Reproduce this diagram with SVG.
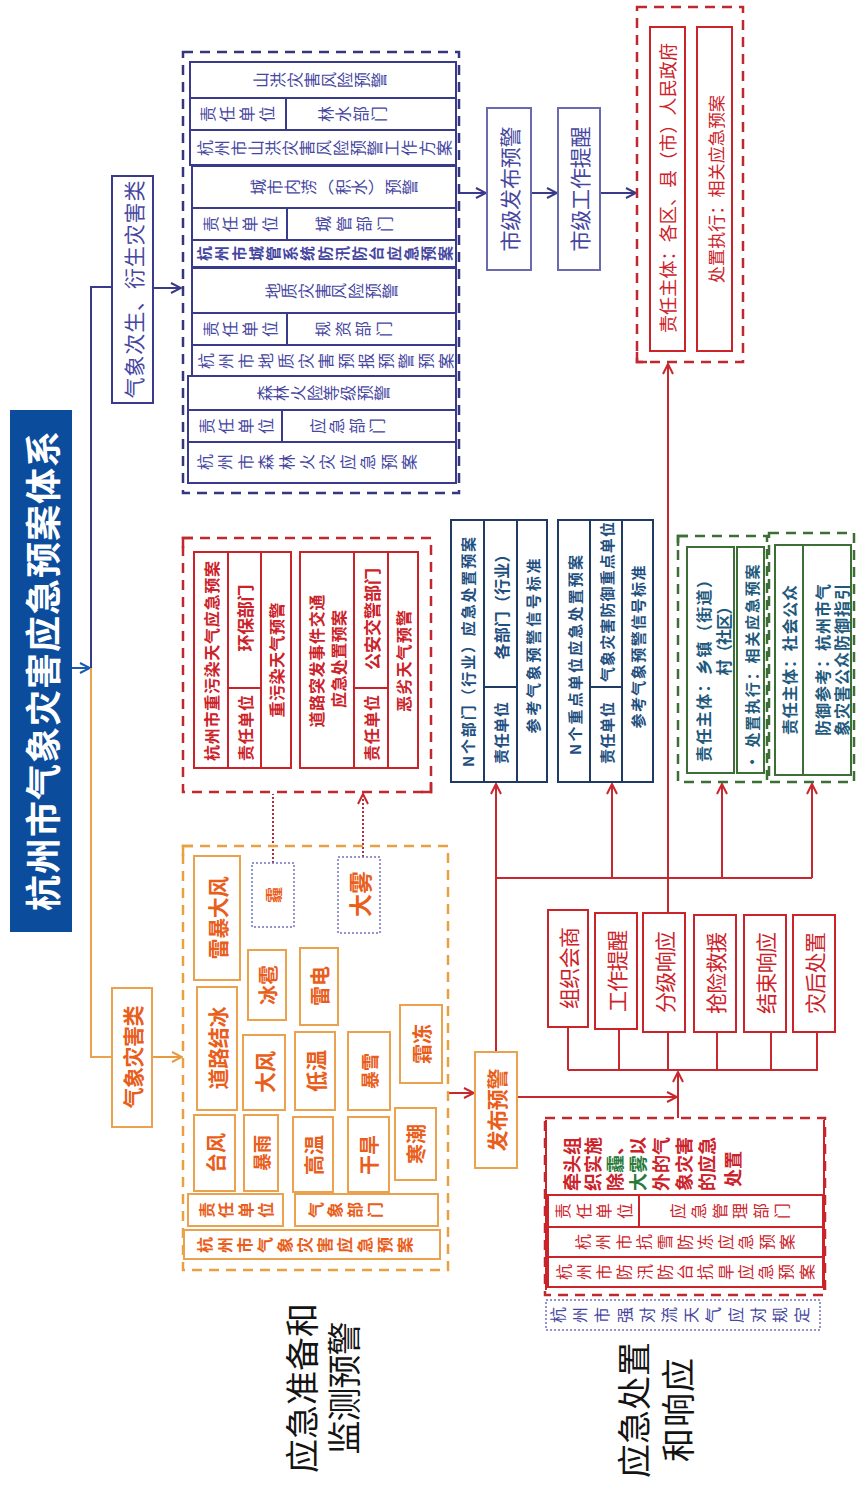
<svg xmlns="http://www.w3.org/2000/svg" width="856" height="1485" viewBox="0 0 856 1485">
<defs>
<style>
text{font-family:"Noto Sans CJK SC","Noto Sans CJK JP",sans-serif;text-anchor:middle;dominant-baseline:central}
text.st{text-anchor:start}
.v{writing-mode:vertical-rl}
.pt{fill:#4646a0}
.ot{fill:#e95e1b;font-weight:bold}
.rt{fill:#cc2229}
.rb{fill:#cc2229;font-weight:bold}
.bt{fill:#1f4f80;font-weight:bold}
.gt{fill:#1f5a7c;font-weight:bold}
.lab{fill:#141414}
.pbox{fill:#fff;stroke:#3a3a8c;stroke-width:2}
.pbox2{fill:#fff;stroke:#6a6ab0;stroke-width:2}
.obox{fill:#fff;stroke:#eba24e;stroke-width:2}
.rbox{fill:#fff;stroke:#cc2229;stroke-width:2}
.bbox{fill:#fff;stroke:#1f3b63;stroke-width:2}
.gbox{fill:#fff;stroke:#3d6e36;stroke-width:2}
.dash{fill:none;stroke-width:2.5;stroke-dasharray:10 7}
.dot{fill:#fff;stroke:#7070c0;stroke-width:1.5;stroke-dasharray:2 2}
</style>
<marker id="ap" viewBox="0 0 12 12" refX="11" refY="6" markerWidth="12" markerHeight="12" markerUnits="userSpaceOnUse" orient="auto"><path d="M1,1 L11,6 L1,11" fill="none" stroke="#3a3a8c" stroke-width="2"/></marker>
<marker id="ab" viewBox="0 0 12 12" refX="11" refY="6" markerWidth="12" markerHeight="12" markerUnits="userSpaceOnUse" orient="auto"><path d="M1,1 L11,6 L1,11" fill="none" stroke="#1a5ab0" stroke-width="2"/></marker>
<marker id="ao" viewBox="0 0 12 12" refX="11" refY="6" markerWidth="12" markerHeight="12" markerUnits="userSpaceOnUse" orient="auto"><path d="M1,1 L11,6 L1,11" fill="none" stroke="#e89a40" stroke-width="2"/></marker>
<marker id="ar" viewBox="0 0 12 12" refX="11" refY="6" markerWidth="12" markerHeight="12" markerUnits="userSpaceOnUse" orient="auto"><path d="M1,1 L11,6 L1,11" fill="none" stroke="#c8282d" stroke-width="2"/></marker>
</defs>
<rect width="856" height="1485" fill="#fff"/>

<g id="title"><rect x="10" y="410" width="62" height="522" fill="#0b4c9d"/><text x="41" y="671" transform="rotate(-90 41 671)" font-size="36" font-weight="bold" fill="#fff" textLength="480" lengthAdjust="spacing">杭州市气象灾害应急预案体系</text></g>

<g id="connectors" fill="none" stroke-width="2">
<path d="M72,668 H90" stroke="#1a5ab0" marker-end="url(#ab)"/>
<path d="M112,287 H91 V668" stroke="#3a3a8c"/>
<path d="M91,668 V1057 H112" stroke="#eba24e"/>
<path d="M153,288 H181" stroke="#3a3a8c" marker-end="url(#ap)"/>
<path d="M459,193 H486" stroke="#3a3a8c" marker-end="url(#ap)"/>
<path d="M531,193 H557" stroke="#3a3a8c" marker-end="url(#ap)"/>
<path d="M600,193 H636" stroke="#3a3a8c" marker-end="url(#ap)"/>
<path d="M152,1057 H182" stroke="#e89a40" marker-end="url(#ao)"/>
<path d="M448,1093 H474" stroke="#c8282d" marker-end="url(#ar)"/>
<path d="M496,1052 V784" stroke="#c8282d" marker-end="url(#ar)"/>
<path d="M496,878 H812" stroke="#c8282d"/>
<path d="M612,878 V784" stroke="#c8282d" marker-end="url(#ar)"/>
<path d="M722,878 V784" stroke="#c8282d" marker-end="url(#ar)"/>
<path d="M812,878 V784" stroke="#c8282d" marker-end="url(#ar)"/>
<path d="M668,913 V364" stroke="#c8282d" marker-end="url(#ar)"/>
<path d="M517,1097 H677" stroke="#c8282d" marker-end="url(#ar)"/>
<path d="M678,1118 V1072" stroke="#c8282d" marker-end="url(#ar)"/>
<path d="M568,1070 H818 M568,1070 V1027 M619,1070 V1029 M668,1070 V1032 M717,1070 V1032 M771,1070 V1032 M817,1070 V1032" stroke="#c8282d"/>
<path d="M273,863 V794 M363,857 V794" stroke="#b03040" stroke-dasharray="2 2" marker-end="url(#ar)"/>
</g>

<g id="cat-secondary"><rect class="pbox" x="112" y="176" width="41" height="227"/><text class="pt" x="132.5" y="289.5" transform="rotate(-90 132.5 289.5)" font-size="21" textLength="218" lengthAdjust="spacing">气象次生、衍生灾害类</text></g>
<g id="cat-weather"><rect class="obox" x="112" y="988" width="40" height="139"/><text class="ot" x="132" y="1057" transform="rotate(-90 132 1057)" font-size="21" textLength="103" lengthAdjust="spacing">气象灾害类</text></g>

<g id="secondary-plans">
<rect class="dash" x="183" y="52" width="276" height="441" stroke="#36367f"/>
<g id="plan-shanhong">
<rect class="pbox" x="190" y="62" width="266" height="36"/><rect class="pbox" x="190" y="98" width="96" height="32"/><rect class="pbox" x="286" y="98" width="170" height="32"/><rect class="pbox" x="190" y="130" width="266" height="35"/>
<text class="pt v" x="320" y="80" transform="rotate(-90 320 80)" font-size="16" textLength="134" lengthAdjust="spacing">山洪灾害风险预警</text>
<text class="pt v" x="237" y="114" transform="rotate(-90 237 114)" font-size="16" textLength="75" lengthAdjust="spacing">责任单位</text>
<text class="pt v" x="352" y="114" transform="rotate(-90 352 114)" font-size="16" textLength="69" lengthAdjust="spacing">林水部门</text>
<text class="pt v" x="324" y="148" transform="rotate(-90 324 148)" font-size="16" textLength="255" lengthAdjust="spacing">杭州市山洪灾害风险预警工作方案</text>
</g>
<g id="plan-chengshi">
<rect class="pbox" x="192" y="166" width="264" height="42"/><rect class="pbox" x="192" y="208" width="95" height="32"/><rect class="pbox" x="287" y="208" width="169" height="32"/><rect class="pbox" x="192" y="240" width="264" height="27"/>
<text class="pt v" x="334" y="187" transform="rotate(-90 334 187)" font-size="16" textLength="168" lengthAdjust="spacing">城市内涝（积水）预警</text>
<text class="pt v" x="240" y="224" transform="rotate(-90 240 224)" font-size="16" textLength="75" lengthAdjust="spacing">责任单位</text>
<text class="pt v" x="354" y="224" transform="rotate(-90 354 224)" font-size="16" textLength="78" lengthAdjust="spacing">城管部门</text>
<text class="pt v" x="325" y="253.5" transform="rotate(-90 325 253.5)" font-size="15" font-weight="bold" textLength="256" lengthAdjust="spacing">杭州市城管系统防汛防台应急预案</text>
</g>
<g id="plan-dizhi">
<rect class="pbox" x="192" y="268" width="264" height="45"/><rect class="pbox" x="192" y="313" width="95" height="32"/><rect class="pbox" x="287" y="313" width="169" height="32"/><rect class="pbox" x="192" y="345" width="264" height="31"/>
<text class="pt v" x="331" y="291" transform="rotate(-90 331 291)" font-size="16" textLength="133" lengthAdjust="spacing">地质灾害风险预警</text>
<text class="pt v" x="240" y="329" transform="rotate(-90 240 329)" font-size="16" textLength="75" lengthAdjust="spacing">责任单位</text>
<text class="pt v" x="353" y="329" transform="rotate(-90 353 329)" font-size="16" textLength="77" lengthAdjust="spacing">规资部门</text>
<text class="pt v" x="326" y="361" transform="rotate(-90 326 361)" font-size="16" textLength="256" lengthAdjust="spacing">杭州市地质灾害预报预警预案</text>
</g>
<g id="plan-senlin">
<rect class="pbox" x="188" y="376" width="268" height="34"/><rect class="pbox" x="188" y="410" width="94" height="32"/><rect class="pbox" x="282" y="410" width="174" height="32"/><rect class="pbox" x="188" y="442" width="268" height="41"/>
<text class="pt v" x="323" y="393" transform="rotate(-90 323 393)" font-size="16" textLength="133" lengthAdjust="spacing">森林火险等级预警</text>
<text class="pt v" x="236" y="426" transform="rotate(-90 236 426)" font-size="16" textLength="75" lengthAdjust="spacing">责任单位</text>
<text class="pt v" x="347" y="426" transform="rotate(-90 347 426)" font-size="16" textLength="75" lengthAdjust="spacing">应急部门</text>
<text class="pt v" x="307" y="462" transform="rotate(-90 307 462)" font-size="16" textLength="220" lengthAdjust="spacing">杭州市森林火灾应急预案</text>
</g>
</g>

<g id="city-warning"><rect class="pbox2" x="487" y="108" width="44" height="162"/><text class="pt" x="509" y="189" transform="rotate(-90 509 189)" font-size="21" textLength="125" lengthAdjust="spacing">市级发布预警</text></g>
<g id="city-reminder"><rect class="pbox2" x="558" y="108" width="42" height="162"/><text class="pt" x="579" y="189" transform="rotate(-90 579 189)" font-size="21" textLength="125" lengthAdjust="spacing">市级工作提醒</text></g>

<g id="district">
<rect class="dash" x="637" y="7" width="106" height="355" stroke="#c0282d"/>
<path d="M637,352 V362 H647" fill="none" stroke="#c0282d" stroke-width="2.5"/>
<rect class="rbox" x="650" y="27" width="35" height="324"/><rect class="rbox" x="697" y="27" width="35" height="324"/>
<text class="rt" x="667" y="188" transform="rotate(-90 667 188)" font-size="18" textLength="290" lengthAdjust="spacing">责任主体：各区、县（市）人民政府</text>
<text class="rt" x="715" y="189" transform="rotate(-90 715 189)" font-size="17" textLength="188" lengthAdjust="spacing">处置执行：相关应急预案</text>
</g>

<g id="pollution-plans">
<rect class="dash" x="183" y="538" width="248" height="254" stroke="#c0282d"/>
<path d="M183,548 V538 H193 M421,792 H431 V782" fill="none" stroke="#c0282d" stroke-width="2.5"/>
<g id="plan-wuran">
<rect class="rbox" x="194" y="552" width="34" height="216"/><rect class="rbox" x="228" y="552" width="33" height="136"/><rect class="rbox" x="228" y="688" width="33" height="80"/><rect class="rbox" x="261" y="552" width="30" height="216"/>
<text class="rb" x="211" y="661" transform="rotate(-90 211 661)" font-size="16" textLength="200" lengthAdjust="spacing">杭州市重污染天气应急预案</text>
<text class="rb" x="244.5" y="618" transform="rotate(-90 244.5 618)" font-size="17" textLength="67" lengthAdjust="spacing">环保部门</text>
<text class="rb" x="244.5" y="728" transform="rotate(-90 244.5 728)" font-size="16" textLength="66" lengthAdjust="spacing">责任单位</text>
<text class="rb" x="276" y="660" transform="rotate(-90 276 660)" font-size="16" textLength="115" lengthAdjust="spacing">重污染天气预警</text>
</g>
<g id="plan-daolu">
<rect class="rbox" x="300" y="552" width="54" height="216"/><rect class="rbox" x="354" y="552" width="34" height="136"/><rect class="rbox" x="354" y="688" width="34" height="80"/><rect class="rbox" x="388" y="552" width="30" height="216"/>
<text class="rb" x="316" y="661" transform="rotate(-90 316 661)" font-size="16" textLength="133" lengthAdjust="spacing">道路突发事件交通</text>
<text class="rb" x="338" y="659" transform="rotate(-90 338 659)" font-size="16" textLength="98" lengthAdjust="spacing">应急处置预案</text>
<text class="rb" x="371" y="619" transform="rotate(-90 371 619)" font-size="17" textLength="102" lengthAdjust="spacing">公安交警部门</text>
<text class="rb" x="371" y="728" transform="rotate(-90 371 728)" font-size="16" textLength="66" lengthAdjust="spacing">责任单位</text>
<text class="rb" x="403" y="661" transform="rotate(-90 403 661)" font-size="16" textLength="102" lengthAdjust="spacing">恶劣天气预警</text>
</g>
</g>

<g id="dept-plans"><rect class="bbox" x="451" y="520" width="96" height="262"/><path d="M484,520 V782 M517,520 V782 M484,687 H517" stroke="#1f3b63" stroke-width="2"/>
<text class="bt" x="467.5" y="652" transform="rotate(-90 467.5 652)" font-size="15" textLength="230" lengthAdjust="spacing">N个部门（行业）应急处置预案</text>
<text class="bt" x="500.5" y="603" transform="rotate(-90 500.5 603)" font-size="16" textLength="113" lengthAdjust="spacing">各部门（行业）</text>
<text class="bt" x="500.5" y="733" transform="rotate(-90 500.5 733)" font-size="15" textLength="62" lengthAdjust="spacing">责任单位</text>
<text class="bt" x="532" y="646" transform="rotate(-90 532 646)" font-size="15" textLength="175" lengthAdjust="spacing">参考气象预警信号标准</text>
</g>
<g id="unit-plans"><rect class="bbox" x="558" y="520" width="95" height="262"/><path d="M590,520 V782 M622,520 V782 M590,687 H622" stroke="#1f3b63" stroke-width="2"/>
<text class="bt" x="574" y="655" transform="rotate(-90 574 655)" font-size="15" textLength="200" lengthAdjust="spacing">N个重点单位应急处置预案</text>
<text class="bt" x="606" y="602" transform="rotate(-90 606 602)" font-size="15" textLength="160" lengthAdjust="spacing">气象灾害防御重点单位</text>
<text class="bt" x="606" y="733" transform="rotate(-90 606 733)" font-size="15" textLength="62" lengthAdjust="spacing">责任单位</text>
<text class="bt" x="637.5" y="647" transform="rotate(-90 637.5 647)" font-size="15" textLength="163" lengthAdjust="spacing">参考气象预警信号标准</text>
</g>

<g id="township"><rect class="dash" x="678" y="536" width="89" height="246" stroke="#3d6e36"/>
<path d="M678,546 V536 H688" fill="none" stroke="#3d6e36" stroke-width="2.5"/>
<rect class="gbox" x="687" y="547" width="47" height="226"/><rect class="gbox" x="737" y="547" width="27" height="226"/>
<text class="gt" x="703" y="667" transform="rotate(-90 703 667)" font-size="16" textLength="190" lengthAdjust="spacing">责任主体：乡镇（街道）</text>
<text class="gt" x="723" y="637" transform="rotate(-90 723 637)" font-size="16" textLength="77" lengthAdjust="spacing">村（社区）</text>
<text class="gt" x="751" y="667" transform="rotate(-90 751 667)" font-size="15" textLength="205" lengthAdjust="spacing">· 处置执行：相关应急预案</text>
</g>
<g id="public"><rect class="dash" x="769" y="533" width="85" height="249" stroke="#3d6e36"/>
<rect class="gbox" x="775" y="545" width="28" height="230"/><rect class="gbox" x="803" y="545" width="48" height="230"/>
<text class="gt" x="789" y="660" transform="rotate(-90 789 660)" font-size="16" textLength="150" lengthAdjust="spacing">责任主体：社会公众</text>
<text class="gt" x="822" y="660" transform="rotate(-90 822 660)" font-size="16" textLength="152" lengthAdjust="spacing">防御参考：杭州市气</text>
<text class="gt" x="841" y="660" transform="rotate(-90 841 660)" font-size="16" textLength="152" lengthAdjust="spacing">象灾害公众防御指引</text>
</g>

<g id="weather-plans">
<rect class="dash" x="183" y="846" width="265" height="424" stroke="#e8a040"/>
<path d="M183,856 V846 H193" fill="none" stroke="#e8a040" stroke-width="2.5"/>
<g id="n-leibaodafeng"><rect class="obox" x="194" y="856" width="46" height="124"/><text class="ot" x="217" y="918" transform="rotate(-90 217 918)" font-size="21" textLength="83" lengthAdjust="spacing">雷暴大风</text></g>
<g id="n-mai"><rect class="dot" x="252" y="863" width="42" height="64"/><text class="ot" x="273" y="895" transform="rotate(-90 273 895)" font-size="16">霾</text></g>
<g id="n-dawu"><rect class="dot" x="338" y="857" width="42" height="76"/><text class="ot" x="359" y="894" transform="rotate(-90 359 894)" font-size="23">大雾</text></g>
<g id="n-daolujiebing"><rect class="obox" x="197" y="987" width="40" height="123"/><text class="ot" x="217" y="1048" transform="rotate(-90 217 1048)" font-size="21" textLength="83" lengthAdjust="spacing">道路结冰</text></g>
<g id="n-bingbao"><rect class="obox" x="248" y="950" width="38" height="70"/><text class="ot" x="267" y="985" transform="rotate(-90 267 985)" font-size="20">冰雹</text></g>
<g id="n-dafeng"><rect class="obox" x="243" y="1035" width="42" height="75"/><text class="ot" x="264" y="1072" transform="rotate(-90 264 1072)" font-size="21">大风</text></g>
<g id="n-leidian"><rect class="obox" x="300" y="948" width="38" height="77"/><text class="ot" x="319" y="986" transform="rotate(-90 319 986)" font-size="20">雷电</text></g>
<g id="n-diwen"><rect class="obox" x="295" y="1032" width="40" height="78"/><text class="ot" x="315" y="1071" transform="rotate(-90 315 1071)" font-size="21">低温</text></g>
<g id="n-baoxue"><rect class="obox" x="348" y="1032" width="42" height="78"/><text class="ot" x="369" y="1071" transform="rotate(-90 369 1071)" font-size="18">暴雪</text></g>
<g id="n-shuangdong"><rect class="obox" x="400" y="1005" width="42" height="78"/><text class="ot" x="421" y="1044" transform="rotate(-90 421 1044)" font-size="20">霜冻</text></g>
<g id="n-taifeng"><rect class="obox" x="194" y="1115" width="41" height="76"/><text class="ot" x="215" y="1153" transform="rotate(-90 215 1153)" font-size="20">台风</text></g>
<g id="n-baoyu"><rect class="obox" x="244" y="1115" width="34" height="76"/><text class="ot" x="261" y="1153" transform="rotate(-90 261 1153)" font-size="18">暴雨</text></g>
<g id="n-gaowen"><rect class="obox" x="293" y="1117" width="40" height="75"/><text class="ot" x="313" y="1155" transform="rotate(-90 313 1155)" font-size="20">高温</text></g>
<g id="n-ganhan"><rect class="obox" x="348" y="1117" width="41" height="75"/><text class="ot" x="368" y="1155" transform="rotate(-90 368 1155)" font-size="20">干旱</text></g>
<g id="n-hanchao"><rect class="obox" x="395" y="1108" width="41" height="72"/><text class="ot" x="415" y="1144" transform="rotate(-90 415 1144)" font-size="20">寒潮</text></g>
<g id="plan-qixiang">
<rect class="obox" x="188" y="1194" width="95" height="32"/><rect class="obox" x="295" y="1194" width="143" height="32"/><rect class="obox" x="184" y="1230" width="256" height="29"/>
<text class="ot v" x="236" y="1210" transform="rotate(-90 236 1210)" font-size="16" textLength="75" lengthAdjust="spacing">责任单位</text>
<text class="ot v" x="345" y="1210" transform="rotate(-90 345 1210)" font-size="16" textLength="75" lengthAdjust="spacing">气象部门</text>
<text class="ot v" x="305" y="1245" transform="rotate(-90 305 1245)" font-size="16" textLength="216" lengthAdjust="spacing">杭州市气象灾害应急预案</text>
</g>
</g>

<g id="publish"><rect class="obox" x="475" y="1052" width="42" height="116"/><text class="ot" x="496" y="1110" transform="rotate(-90 496 1110)" font-size="21" textLength="83" lengthAdjust="spacing">发布预警</text></g>

<g id="responses">
<g id="r-huishang"><rect class="rbox" x="548" y="910" width="40" height="117"/><text class="rt" x="568" y="968" transform="rotate(-90 568 968)" font-size="21" textLength="82" lengthAdjust="spacing">组织会商</text></g>
<g id="r-tixing"><rect class="rbox" x="595" y="913" width="42" height="116"/><text class="rt" x="616" y="971" transform="rotate(-90 616 971)" font-size="21" textLength="82" lengthAdjust="spacing">工作提醒</text></g>
<g id="r-fenji"><rect class="rbox" x="643" y="913" width="42" height="119"/><text class="rt" x="664" y="972" transform="rotate(-90 664 972)" font-size="21" textLength="82" lengthAdjust="spacing">分级响应</text></g>
<g id="r-qiangxian"><rect class="rbox" x="694" y="915" width="42" height="117"/><text class="rt" x="715" y="973" transform="rotate(-90 715 973)" font-size="21" textLength="82" lengthAdjust="spacing">抢险救援</text></g>
<g id="r-jieshu"><rect class="rbox" x="744" y="915" width="42" height="117"/><text class="rt" x="765" y="973" transform="rotate(-90 765 973)" font-size="21" textLength="82" lengthAdjust="spacing">结束响应</text></g>
<g id="r-zaihou"><rect class="rbox" x="793" y="915" width="42" height="117"/><text class="rt" x="814" y="973" transform="rotate(-90 814 973)" font-size="21" textLength="82" lengthAdjust="spacing">灾后处置</text></g>
</g>

<g id="emergency-plans">
<rect class="dash" x="545" y="1118" width="280" height="177" stroke="#c0282d"/>
<path d="M546,1120 V1290 M824,1120 V1290" stroke="#cc2229" stroke-width="2"/>
<rect class="rbox" x="548" y="1195" width="91" height="32"/><rect class="rbox" x="639" y="1195" width="184" height="32"/><rect class="rbox" x="548" y="1227" width="275" height="30"/><rect class="rbox" x="548" y="1257" width="275" height="30"/>
<g class="rb" font-size="18">
<text class="st" x="571" y="1191" transform="rotate(-90 571 1191)">牵头组</text>
<text class="st" x="592" y="1191" transform="rotate(-90 592 1191)">织实施</text>
<text class="st" x="614" y="1191" transform="rotate(-90 614 1191)">除<tspan fill="#2a7a3a">霾</tspan>、</text>
<text class="st" x="637" y="1191" transform="rotate(-90 637 1191)"><tspan fill="#2a7a3a">大雾</tspan>以</text>
<text class="st" x="660" y="1191" transform="rotate(-90 660 1191)">外的气</text>
<text class="st" x="683" y="1191" transform="rotate(-90 683 1191)">象灾害</text>
<text class="st" x="706" y="1191" transform="rotate(-90 706 1191)">的应急</text>
<text class="st" x="732" y="1187" transform="rotate(-90 732 1187)">处置</text>
</g>
<text class="rt v" x="594" y="1211" transform="rotate(-90 594 1211)" font-size="16" textLength="78" lengthAdjust="spacing">责任单位</text>
<text class="rt v" x="730" y="1211" transform="rotate(-90 730 1211)" font-size="16" textLength="120" lengthAdjust="spacing">应急管理部门</text>
<text class="rt v" x="685" y="1242" transform="rotate(-90 685 1242)" font-size="16" textLength="220" lengthAdjust="spacing">杭州市抗雪防冻应急预案</text>
<text class="rt v" x="685" y="1272" transform="rotate(-90 685 1272)" font-size="16" textLength="259" lengthAdjust="spacing">杭州市防汛防台抗旱应急预案</text>
</g>
<g id="convection"><rect class="dot" x="546" y="1300" width="274" height="30" stroke-width="2"/><text class="pt v" x="680" y="1315" transform="rotate(-90 680 1315)" font-size="16" textLength="260" lengthAdjust="spacing">杭州市强对流天气应对规定</text></g>

<g id="labels">
<text class="lab" x="300" y="1388" transform="rotate(-90 300 1388)" font-size="34" textLength="170" lengthAdjust="spacing">应急准备和</text>
<text class="lab" x="342" y="1388" transform="rotate(-90 342 1388)" font-size="34" textLength="133" lengthAdjust="spacing">监测预警</text>
<text class="lab" x="632" y="1410" transform="rotate(-90 632 1410)" font-size="34" textLength="136" lengthAdjust="spacing">应急处置</text>
<text class="lab" x="676" y="1410" transform="rotate(-90 676 1410)" font-size="34" textLength="104" lengthAdjust="spacing">和响应</text>
</g>
</svg>
